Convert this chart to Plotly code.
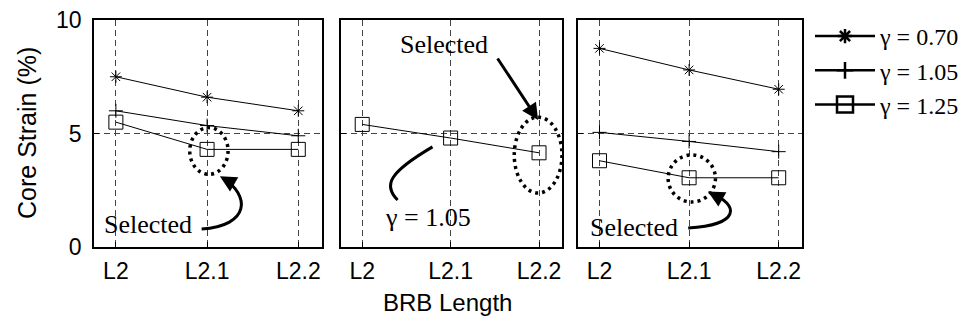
import plotly.graph_objects as go
from plotly.subplots import make_subplots

# BRB length cases on the x axis
lengths = ["L2", "L2.1", "L2.2"]
xpos = list(range(len(lengths)))

# Core strain (%) per panel and gamma value
left_g070 = [7.5, 6.6, 6.0]
left_g105 = [6.0, 5.35, 4.9]
left_g125 = [5.5, 4.3, 4.3]

mid_g105 = [5.4, 4.8, 4.15]

right_g070 = [8.75, 7.8, 6.95]
right_g105 = [5.05, 4.65, 4.2]
right_g125 = [3.8, 3.05, 3.05]

legend_names = ["γ = 0.70", "γ = 1.05", "γ = 1.25"]
symbols = ["asterisk-open", "cross-thin-open", "square-open"]
sizes = [10, 10, 14]

SANS = "Liberation Sans"
SERIF = "Liberation Serif"

fig = make_subplots(rows=1, cols=3)

panels = [
    (1, [left_g070, left_g105, left_g125], [0, 1, 2]),
    (2, [mid_g105], [2]),
    (3, [right_g070, right_g105, right_g125], [0, 1, 2]),
]
for col, series, styles in panels:
    for vals, s in zip(series, styles):
        fig.add_trace(go.Scatter(
            x=xpos, y=vals, mode="lines+markers", showlegend=False,
            line=dict(color="black", width=1),
            marker=dict(symbol=symbols[s], size=sizes[s], color="black",
                        line=dict(color="black", width=1)),
        ), row=1, col=col)

# legend keys drawn with heavier strokes
for i, name in enumerate(legend_names):
    fig.add_trace(go.Scatter(
        x=[None], y=[None], mode="lines+markers", name=name,
        legendgroup=name,
        line=dict(color="black", width=2.5),
        marker=dict(symbol=symbols[i], size=sizes[i] + 2, color="black",
                    line=dict(color="black", width=2.5)),
    ), row=1, col=1)

W, H = 963, 322
xdomains = [(94 / W, 322 / W), (341 / W, 562 / W), (578 / W, 802 / W)]
ydomain = ((H - 247) / H, (H - 20) / H)

grid = dict(showgrid=True, gridcolor="#444", gridwidth=1, griddash="6px,4px")
for i in range(3):
    fig.update_xaxes(
        domain=list(xdomains[i]), range=[-0.24, 2.26],
        tickvals=xpos, ticktext=lengths, ticks="inside", ticklen=5,
        tickcolor="black", showline=True, linecolor="black", linewidth=1.5,
        mirror=True, zeroline=False, ticklabelstandoff=3,
        tickfont=dict(family=SANS, size=23, color="black"),
        row=1, col=i + 1, **grid)
    fig.update_yaxes(
        domain=list(ydomain), range=[0, 10], tickvals=[0, 5, 10],
        ticks="inside", ticklen=5, tickcolor="black", showline=True,
        linecolor="black", linewidth=1.5, mirror=True, zeroline=False,
        showticklabels=(i == 0), ticklabelstandoff=6,
        tickfont=dict(family=SANS, size=23, color="black"),
        row=1, col=i + 1, **grid)

shapes = []
annotations = []


def ellipse(ax, xc, yc, rx, ry):
    shapes.append(dict(type="circle", xref=f"x{ax}", yref=f"y{ax}",
                       x0=xc - rx, x1=xc + rx, y0=yc - ry, y1=yc + ry,
                       line=dict(color="black", width=3.5, dash="3px,4px")))


def curve(ax, pts):
    (x0, y0), (x1, y1), (x2, y2), (x3, y3) = pts
    shapes.append(dict(type="path", xref=f"x{ax}", yref=f"y{ax}",
                       path=f"M {x0},{y0} C {x1},{y1} {x2},{y2} {x3},{y3}",
                       line=dict(color="black", width=3)))


def arrow(ax, tip, tail):
    annotations.append(dict(xref=f"x{ax}", yref=f"y{ax}", axref=f"x{ax}",
                            ayref=f"y{ax}", x=tip[0], y=tip[1], ax=tail[0],
                            ay=tail[1], text="", showarrow=True, arrowhead=2,
                            arrowsize=1.1, arrowwidth=3, arrowcolor="black",
                            standoff=0))


def label(ax, x, y, text, size=26):
    annotations.append(dict(xref=f"x{ax}", yref=f"y{ax}", x=x, y=y, text=text,
                            showarrow=False,
                            font=dict(family=SERIF, size=size, color="black")))


# left panel callout
ellipse("", 1.02, 4.23, 0.21, 1.03)
curve("", [(0.94, 0.79), (1.475, 0.93), (1.475, 2.29), (1.17, 3.04)])
arrow("", (1.14, 3.12), (1.3, 2.75))
label("", 0.35, 0.97, "Selected")

# middle panel callout
ellipse("2", 1.99, 4.05, 0.27, 1.67)
arrow("2", (1.99, 5.59), (1.52, 8.37))
label("2", 0.92, 8.9, "Selected")
curve("2", [(0.40, 2.07), (0.23, 2.73), (0.31, 3.30), (0.795, 4.41)])
label("2", 0.74, 1.28, "γ = 1.05")

# right panel callout
ellipse("3", 1.03, 3.02, 0.264, 1.035)
curve("3", [(0.99, 0.84), (1.57, 0.97), (1.57, 1.85), (1.236, 2.38)])
arrow("3", (1.21, 2.45), (1.37, 2.1))
label("3", 0.38, 0.88, "Selected")

# axis titles
annotations.append(dict(xref="paper", yref="paper", x=27 / W, y=(H - 133) / H,
                        xanchor="center", yanchor="middle",
                        text="Core Strain (%)", textangle=-90, showarrow=False,
                        font=dict(family=SANS, size=25, color="black")))
annotations.append(dict(xref="paper", yref="paper", x=447 / W, y=(H - 302) / H,
                        xanchor="center", yanchor="middle",
                        text="BRB Length", showarrow=False,
                        font=dict(family=SANS, size=24, color="black")))

fig.update_layout(
    width=W, height=H,
    margin=dict(l=0, r=0, t=0, b=0, autoexpand=False),
    plot_bgcolor="white", paper_bgcolor="white",
    shapes=shapes, annotations=annotations,
    legend=dict(x=810 / W, y=(H - 14) / H, xanchor="left", yanchor="top",
                font=dict(family=SERIF, size=24, color="black"),
                itemwidth=60, tracegroupgap=0, bgcolor="rgba(0,0,0,0)"),
)

fig.write_html("out.html")
